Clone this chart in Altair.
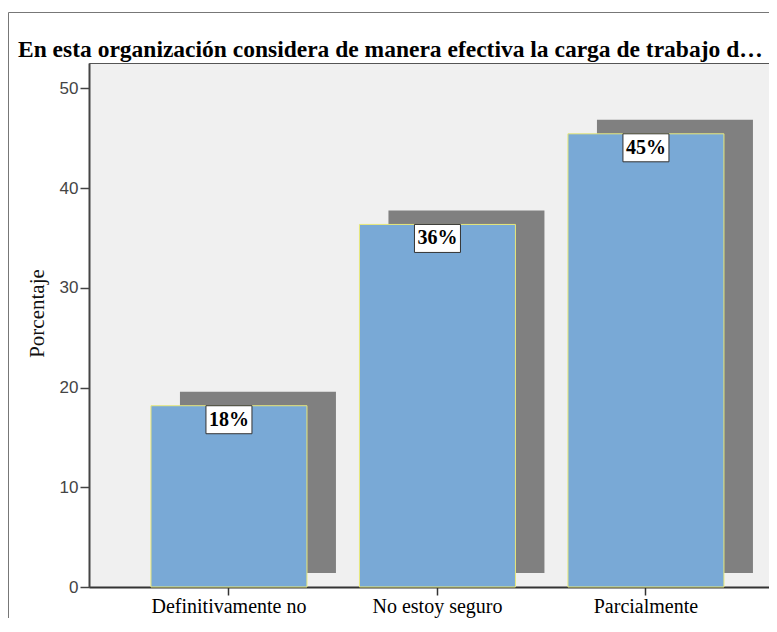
import altair as alt
import pandas as pd

categories = ["Definitivamente no", "No estoy seguro", "Parcialmente"]
percent = [18.18, 36.36, 45.45]
labels = ["18%", "36%", "45%"]
y_ticks = [0, 10, 20, 30, 40, 50]
title_text = "En esta organización considera de manera efectiva la carga de trabajo d…"

df = pd.DataFrame({"cat": categories, "pct": percent, "lab": labels})
one = pd.DataFrame({"t": [title_text]})

x = alt.X(
    "cat:N",
    sort=categories,
    scale=alt.Scale(paddingInner=0.2518, paddingOuter=0.2566, align=0.579),
    axis=alt.Axis(
        title=None, labelAngle=0, domainColor="#333333", domainWidth=2,
        tickColor="#333333", tickWidth=1.5, tickSize=8,
        labelFont="Liberation Serif", labelFontSize=20, labelColor="#000000",
        labelPadding=1, labelBaseline="top",
    ),
)
y = alt.Y(
    "pct:Q",
    scale=alt.Scale(domain=[0, 52.55], nice=False),
    axis=alt.Axis(
        title="Porcentaje", values=y_ticks, grid=False,
        domainColor="#444444", domainWidth=2, tickColor="#444444",
        tickWidth=1.5, tickSize=9, labelFont="Liberation Sans",
        labelFontSize=17, labelColor="#444444", labelPadding=2,
        titleFont="Liberation Serif", titleFontSize=21, titleFontWeight="normal",
        titleColor="#111111", titleX=-52, titleY=250, titleAlign="center",
        titleBaseline="middle", titleAngle=270,
    ),
)

base = alt.Chart(df).encode(x=x, y=y)

shadow = base.mark_bar(color="#808080", xOffset=29, yOffset=-14, y2Offset=-11)
bars = base.mark_bar(color="#79a9d6", stroke="#e8e87a", strokeWidth=1)
boxes = base.mark_bar(
    width=46, fill="white", stroke="#333333", strokeWidth=1, y2Offset=28
).encode(y2=alt.Y2("pct:Q"))
texts = base.mark_text(
    dy=14, baseline="middle", align="center", font="Liberation Serif",
    fontWeight="bold", fontSize=20, color="#000000",
).encode(text="lab:N")

frame_top = alt.Chart(one).mark_rule(color="#777777", strokeWidth=1).encode(
    x=alt.value(-80.5), x2=alt.value(720), y=alt.value(-50.5)
)
frame_left = alt.Chart(one).mark_rule(color="#777777", strokeWidth=1).encode(
    x=alt.value(-80.5), y=alt.value(-50.5), y2=alt.value(620)
)
title = alt.Chart(one).mark_text(
    align="left", baseline="alphabetic", font="Liberation Serif",
    fontWeight="bold", fontSize=23.5, color="#000000",
).encode(x=alt.value(-71), y=alt.value(-6), text="t:N")

chart = alt.layer(frame_top, frame_left, title, shadow, bars, boxes, texts).properties(
    width=680,
    height=524,
    autosize=alt.AutoSizeParams(type="none"),
    padding={"left": 81, "top": 55, "right": 0, "bottom": 31},
    background="white",
).configure_view(fill="#f0f0f0", stroke="#555555", strokeWidth=1)

chart.save("out.html", embed_options={"renderer": "svg", "actions": False})
